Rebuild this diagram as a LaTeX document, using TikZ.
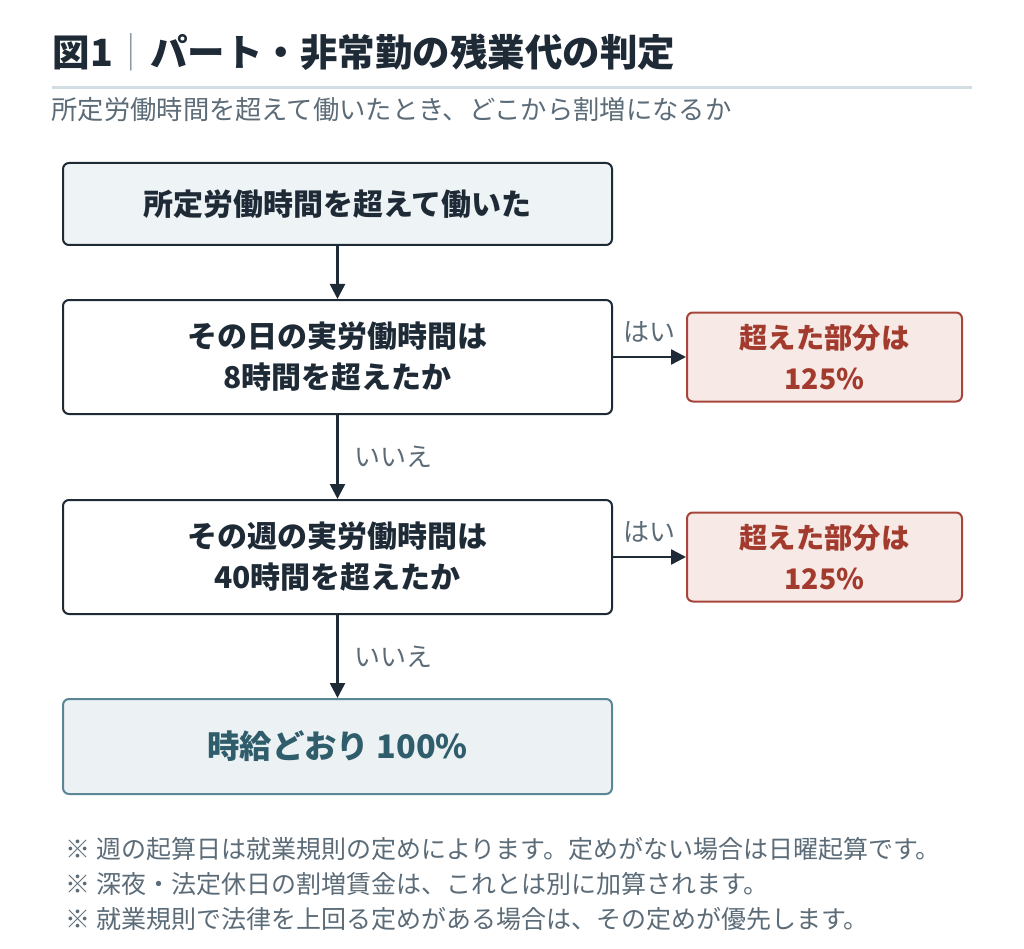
\documentclass[tikz,border=0pt]{standalone}
\usepackage{fontspec}
\setmainfont{Noto Sans CJK JP}
\usetikzlibrary{positioning,arrows.meta}
\definecolor{ink}{HTML}{1E2A36}
\definecolor{note}{HTML}{5B6B77}
\definecolor{rulecol}{HTML}{D3DDE4}
\definecolor{barcol}{HTML}{8A9AA6}
\definecolor{startfill}{HTML}{EEF3F6}
\definecolor{overfill}{HTML}{F7E9E6}
\definecolor{overline}{HTML}{A8453A}
\definecolor{overtext}{HTML}{A23B2E}
\definecolor{basefill}{HTML}{ECF1F3}
\definecolor{baseline}{HTML}{5A8696}
\definecolor{basetext}{HTML}{2F5D6B}
\tikzset{
  flow/.style={-{Triangle[length=15pt,width=15pt]}, line width=2.5pt, draw=ink},
  answer/.style={text=note, font=\fontsize{26}{30}\selectfont},
}

\begin{document}
\begin{tikzpicture}[x=1pt,y=1pt]
  \useasboundingbox (0,0) rectangle (1024,-949);
  \tikzstyle{item}=[rectangle, draw=ink, line width=2pt, rounded corners=6pt,
    minimum width=549pt, align=center, text=ink,
    font=\bfseries\fontsize{30}{41}\selectfont]
  \tikzstyle{over}=[rectangle, draw=overline, fill=overfill, line width=2pt,
    rounded corners=6pt, minimum width=275pt, minimum height=89pt,
    align=center, text=overtext, font=\bfseries\fontsize{28.3}{41}\selectfont]

  % title and lead
  \node (Title) [anchor=west, text=ink, font=\bfseries\fontsize{37.5}{40}\selectfont]
    at (49,-52) {図1{\mdseries\textcolor{barcol}{｜}}パート・非常勤の残業代の判定};
  \draw[rulecol, line width=3pt] (52,-88) -- (972,-88);
  \node (Lead) [anchor=west, text=note, font=\fontsize{26.3}{30}\selectfont]
    at (48,-110) {所定労働時間を超えて働いたとき、どこから割増になるか};

  % flow
  \node (Start) [item, fill=startfill, minimum height=82pt, anchor=north west]
    at (62,-162) {所定労働時間を超えて働いた};
  \node (Day) [item, fill=white, minimum height=114pt, below=53pt of Start]
    {その日の実労働時間は\\8時間を超えたか};
  \node (DayOver) [over, right=73pt of Day] {超えた部分は\\125\%};
  \node (Week) [item, fill=white, minimum height=114pt, below=84pt of Day]
    {その週の実労働時間は\\40時間を超えたか};
  \node (WeekOver) [over, right=73pt of Week] {超えた部分は\\125\%};
  \node (Base) [item, draw=baseline, fill=basefill, text=basetext,
    minimum height=95pt, below=83pt of Week,
    font=\bfseries\fontsize{32.4}{36}\selectfont] {時給どおり 100\%};

  \draw[flow] (Start) -- (Day);
  \draw[flow] (Day) -- node[answer, above=10pt] {はい} (DayOver);
  \draw[flow] (Day) -- node[answer, right=12pt] {いいえ} (Week);
  \draw[flow] (Week) -- node[answer, above=10pt] {はい} (WeekOver);
  \draw[flow] (Week) -- node[answer, right=12pt] {いいえ} (Base);

  % notes
  \node (Note1) [anchor=west, text=note, font=\fontsize{25}{28}\selectfont]
    at (62,-849) {※ 週の起算日は就業規則の定めによります。定めがない場合は日曜起算です。};
  \node (Note2) [anchor=west, text=note, font=\fontsize{25}{28}\selectfont]
    at (62,-884) {※ 深夜・法定休日の割増賃金は、これとは別に加算されます。};
  \node (Note3) [anchor=west, text=note, font=\fontsize{25}{28}\selectfont]
    at (62,-919) {※ 就業規則で法律を上回る定めがある場合は、その定めが優先します。};
\end{tikzpicture}
\end{document}
